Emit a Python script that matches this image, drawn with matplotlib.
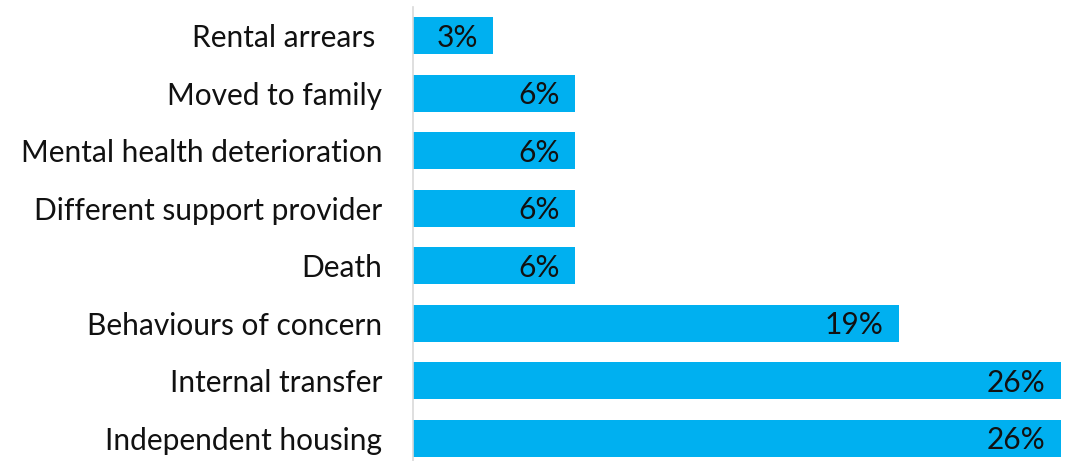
import matplotlib
matplotlib.use("Agg")
import matplotlib.pyplot as plt

categories = ["Rental arrears ", "Moved to family", "Mental health deterioration",
              "Different support provider", "Death", "Behaviours of concern",
              "Internal transfer", "Independent housing"]
values = [3.2, 6.45, 6.45, 6.45, 6.45, 19.35, 25.8, 25.8]
labels = ["3%", "6%", "6%", "6%", "6%", "19%", "26%", "26%"]

plt.rcParams['font.family'] = ['Lato', 'DejaVu Sans']

fig = plt.figure(figsize=(10.76, 4.61), dpi=100)
ax = fig.add_axes([413/1076, -6/461, 1 - 413/1076, 460/461])

y = list(range(len(categories)))
ax.barh(y, values, height=0.65, color="#00B0F0")
ax.set_ylim(len(categories) - 0.5, -0.5)
ax.set_xlim(0, (1076 - 413) / 25.1)

for yi, v, lab in zip(y, values, labels):
    ax.annotate(lab, (v, yi), xytext=(-11, -1.5), textcoords="offset points",
                ha="right", va="center", fontsize=21.5, color="#111111")

ax.set_yticks(y)
ax.set_yticklabels(categories, fontsize=21.5, color="#111111")
ax.tick_params(axis="y", length=0, pad=22)
ax.set_xticks([])
for s in ["top", "right", "bottom"]:
    ax.spines[s].set_visible(False)
ax.spines["left"].set_color("#D9D9D9")
ax.spines["left"].set_linewidth(1.2)

fig.savefig("out.png", dpi=100)
